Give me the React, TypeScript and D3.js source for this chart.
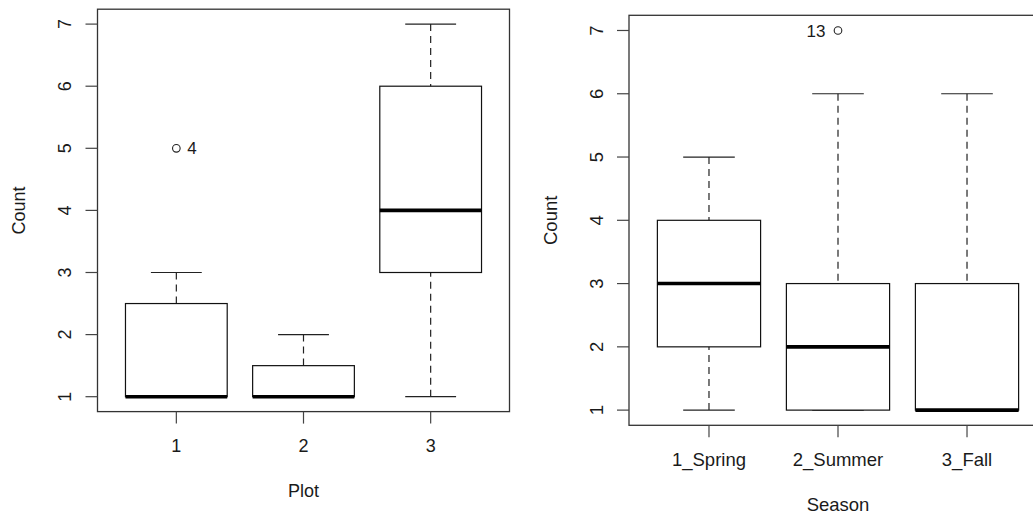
import React from "react";
import * as d3 from "d3";

// Five-number summaries: [lower whisker, Q1, median, Q3, upper whisker]
const plotCategories = ["1", "2", "3"];
const plotStats: number[][] = [
  [1, 1, 1, 2.5, 3],
  [1, 1, 1, 1.5, 2],
  [1, 3, 4, 6, 7],
];
const plotOutliers = [{ group: 0, value: 5, label: "4" }];

const seasonCategories = ["1_Spring", "2_Summer", "3_Fall"];
const seasonStats: number[][] = [
  [1, 2, 3, 4, 5],
  [1, 1, 2, 3, 6],
  [1, 1, 1, 3, 6],
];
const seasonOutliers = [{ group: 1, value: 7, label: "13" }];

const yTicks = [1, 2, 3, 4, 5, 6, 7];

const FONT = "'Liberation Sans', Arial, Helvetica, sans-serif";

type Outlier = { group: number; value: number; label: string };

interface PanelProps {
  left: number;
  right: number;
  top: number;
  bottom: number;
  categories: string[];
  stats: number[][];
  outliers: Outlier[];
  xTitle: string;
  yTitle: string;
  fontSize: number;
  labelSide: "left" | "right";
}

function BoxPanel(p: PanelProps) {
  const n = p.categories.length;
  const pad = (n - 1 + 1) * 0.04;
  const x = d3.scaleLinear().domain([0.5 - pad, n + 0.5 + pad]).range([p.left, p.right]);
  const yMin = d3.min(p.stats, (s) => s[0]) as number;
  const yMax = Math.max(
    d3.max(p.stats, (s) => s[4]) as number,
    d3.max(p.outliers, (o) => o.value) ?? -Infinity
  );
  const yPad = (yMax - yMin) * 0.04;
  const y = d3.scaleLinear().domain([yMin - yPad, yMax + yPad]).range([p.bottom, p.top]);
  const unit = x(2) - x(1);
  const half = unit * 0.4;
  const cap = unit * 0.2;
  const fs = p.fontSize;

  return (
    <g fontFamily={FONT} fill="#1a1a1a">
      {/* boxes */}
      {p.stats.map((s, i) => {
        const cx = x(i + 1);
        return (
          <g key={i}>
            <line x1={cx} x2={cx} y1={y(s[4])} y2={y(s[3])} stroke="#222" strokeWidth={1.2} strokeDasharray="7,5" />
            <line x1={cx} x2={cx} y1={y(s[0])} y2={y(s[1])} stroke="#222" strokeWidth={1.2} strokeDasharray="7,5" />
            <line x1={cx - cap} x2={cx + cap} y1={y(s[4])} y2={y(s[4])} stroke="#222" strokeWidth={1.2} />
            <line x1={cx - cap} x2={cx + cap} y1={y(s[0])} y2={y(s[0])} stroke="#222" strokeWidth={1.2} />
            <rect
              x={cx - half}
              y={y(s[3])}
              width={2 * half}
              height={y(s[1]) - y(s[3])}
              fill="white"
              stroke="#111"
              strokeWidth={1.2}
            />
            <line x1={cx - half} x2={cx + half} y1={y(s[2])} y2={y(s[2])} stroke="#000" strokeWidth={3.6} />
          </g>
        );
      })}
      {/* outliers */}
      {p.outliers.map((o, i) => {
        const cx = x(o.group + 1);
        const cy = y(o.value);
        return (
          <g key={"o" + i}>
            <circle cx={cx} cy={cy} r={3.8} fill="none" stroke="#222" strokeWidth={1.1} />
            <text
              x={p.labelSide === "right" ? cx + 11 : cx - 12.5}
              y={cy}
              dy="0.36em"
              fontSize={17}
              textAnchor={p.labelSide === "right" ? "start" : "end"}
            >
              {o.label}
            </text>
          </g>
        );
      })}
      {/* frame */}
      <rect x={p.left} y={p.top} width={p.right - p.left} height={p.bottom - p.top} fill="none" stroke="#333" strokeWidth={1.3} />
      {/* y axis */}
      {yTicks.map((t) => (
        <g key={"y" + t}>
          <line x1={p.left - 12} x2={p.left} y1={y(t)} y2={y(t)} stroke="#444" strokeWidth={1.2} />
          <text
            transform={`translate(${p.left - 26.5},${y(t)}) rotate(-90)`}
            textAnchor="middle"
            fontSize={fs}
          >
            {t}
          </text>
        </g>
      ))}
      {/* x axis */}
      {p.categories.map((c, i) => (
        <g key={"x" + c}>
          <line x1={x(i + 1)} x2={x(i + 1)} y1={p.bottom} y2={p.bottom + 12} stroke="#444" strokeWidth={1.2} />
          <text x={x(i + 1)} y={p.bottom + 40.5} textAnchor="middle" fontSize={fs}>
            {c}
          </text>
        </g>
      ))}
      <text x={(x(1) + x(n)) / 2} y={p.bottom + 85.5} textAnchor="middle" fontSize={fs}>
        {p.xTitle}
      </text>
      <text
        transform={`translate(${p.left - 72.5},${(p.top + p.bottom) / 2}) rotate(-90)`}
        textAnchor="middle"
        fontSize={fs}
      >
        {p.yTitle}
      </text>
    </g>
  );
}

export default function App() {
  return (
    <svg
      width={1033}
      height={518}
      style={{ position: "absolute", left: 0, top: 0, background: "white" }}
    >
      <rect width={1033} height={518} fill="white" />
      <BoxPanel
        left={97.5}
        right={509.5}
        top={9.2}
        bottom={411.6}
        categories={plotCategories}
        stats={plotStats}
        outliers={plotOutliers}
        xTitle="Plot"
        yTitle="Count"
        fontSize={18}
        labelSide="right"
      />
      <BoxPanel
        left={629}
        right={1047}
        top={15.3}
        bottom={425.3}
        categories={seasonCategories}
        stats={seasonStats}
        outliers={seasonOutliers}
        xTitle="Season"
        yTitle="Count"
        fontSize={18.5}
        labelSide="left"
      />
    </svg>
  );
}
